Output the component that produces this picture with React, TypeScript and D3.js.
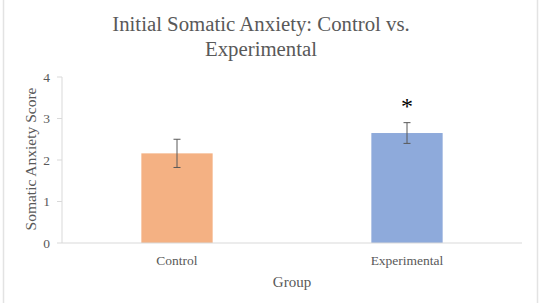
import React from 'react';
import * as d3 from 'd3';

const groups = ['Control', 'Experimental'];
const means = [2.16, 2.65];
const errors = [0.34, 0.25];
const barColors = ['#f4b183', '#8eaadb'];
const yTicks = [0, 1, 2, 3, 4];

const W = 541;
const H = 303;
const FONT = '"Liberation Serif", "DejaVu Serif", serif';

export default function App() {
  const x = d3.scaleBand<string>()
    .domain(groups)
    .range([62, 522])
    .paddingInner(0.69)
    .paddingOuter(0.345);

  const y = d3.scaleLinear()
    .domain([0, 4])
    .range([243, 77]);

  return (
    <div style={{ position: 'absolute', left: 0, top: 0 }}>
      <svg width={W} height={H} style={{ display: 'block' }}>
        <rect x={0} y={0} width={W} height={H} fill="#fff" />
        {/* frame */}
        <rect x={3.5} y={-2} width={534} height={H + 4} fill="none" stroke="#e3e3e3" strokeWidth={1.5} />

        {/* title */}
        <text x={261} y={31} textAnchor="middle" fontFamily={FONT} fontSize={20.8} fill="#595959">
          Initial Somatic Anxiety: Control vs.
        </text>
        <text x={261} y={56} textAnchor="middle" fontFamily={FONT} fontSize={20.8} fill="#595959">
          Experimental
        </text>

        {/* y axis */}
        <line x1={62} x2={62} y1={y(4)} y2={y(0)} stroke="#d9d9d9" />
        {yTicks.map(t => (
          <g key={t}>
            <line x1={57} x2={62} y1={y(t)} y2={y(t)} stroke="#d9d9d9" />
            <text x={50} y={y(t) + 4.5} textAnchor="end" fontFamily={FONT} fontSize={13.5} fill="#595959">{t}</text>
          </g>
        ))}
        <text transform={`translate(36, 159) rotate(-90)`} textAnchor="middle" fontFamily={FONT} fontSize={15.5} fill="#595959">
          Somatic Anxiety Score
        </text>

        {/* bars */}
        {groups.map((g, i) => {
          const bx = x(g)!;
          const cx = bx + x.bandwidth() / 2;
          return (
            <g key={g}>
              <rect x={bx} y={y(means[i])} width={x.bandwidth()} height={y(0) - y(means[i])} fill={barColors[i]} />
              <line x1={cx} x2={cx} y1={y(means[i] + errors[i])} y2={y(means[i] - errors[i])} stroke="#595959" strokeWidth={1} />
              <line x1={cx - 3.5} x2={cx + 3.5} y1={y(means[i] + errors[i])} y2={y(means[i] + errors[i])} stroke="#595959" />
              <line x1={cx - 3.5} x2={cx + 3.5} y1={y(means[i] - errors[i])} y2={y(means[i] - errors[i])} stroke="#595959" />
              <text x={cx} y={265} textAnchor="middle" fontFamily={FONT} fontSize={13.5} fill="#595959">{g}</text>
            </g>
          );
        })}

        {/* baseline */}
        <line x1={62} x2={522} y1={y(0)} y2={y(0)} stroke="#d9d9d9" />

        {/* significance */}
        <text x={x('Experimental')! + x.bandwidth() / 2} y={114} textAnchor="middle" fontFamily={FONT} fontSize={24} fill="#000">*</text>

        <text x={292} y={287} textAnchor="middle" fontFamily={FONT} fontSize={15} fill="#595959">Group</text>
      </svg>
    </div>
  );
}
